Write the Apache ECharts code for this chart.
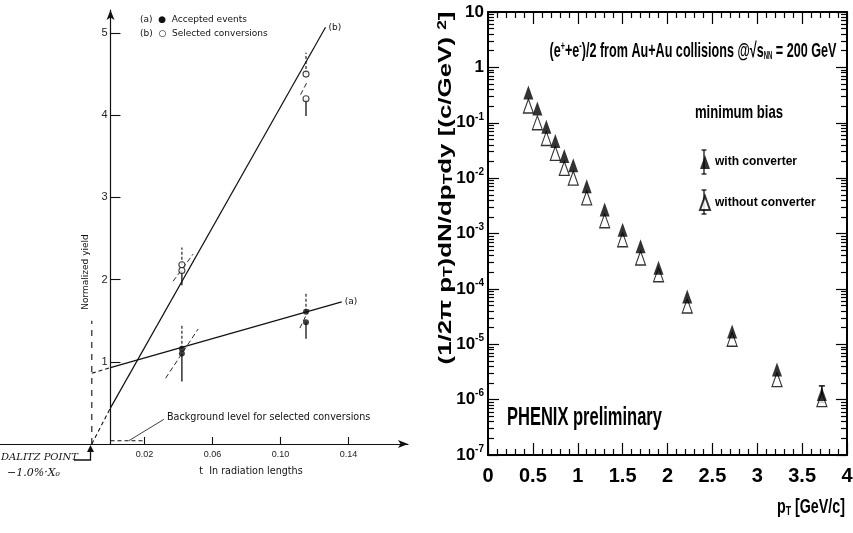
<!DOCTYPE html>
<html><head><meta charset="utf-8">
<script src="https://cdn.jsdelivr.net/npm/echarts@6/dist/echarts.min.js"></script>
<style>html,body{margin:0;padding:0;background:#fff}#c{width:853px;height:533px}</style>
</head><body><div id="c"></div><script>
// ---------- Left panel data (t in radiation lengths, normalized yield) ----------
const tAccepted = [0.042, 0.042, 0.115, 0.115];
const yAccepted = [1.16, 1.10, 1.61, 1.48];
const tSelected = [0.042, 0.042, 0.115, 0.115];
const ySelected = [2.18, 2.11, 4.50, 4.20];
// [t, from, to]
const errUpperDashed = [[0.042, 1.16, 1.45], [0.042, 2.18, 2.39], [0.115, 1.61, 1.84], [0.115, 4.50, 4.76]];
const errLowerSolid  = [[0.042, 1.10, 0.76], [0.042, 2.11, 1.93], [0.115, 1.48, 1.28], [0.115, 4.20, 3.99]];
const fitA    = [[0, 0.93], [0.136, 1.73]];
const fitAExt = [[-0.011, 0.86], [0, 0.93]];
const fitB    = [[0, 0.44], [0.1265, 5.07]];
const fitBExt = [[-0.011, 0], [0, 0.44]];
const slopeMarks = [
  [[0.0324, 0.80], [0.0516, 1.40]],
  [[0.0368, 1.98], [0.0486, 2.31]],
  [[0.1114, 1.41], [0.1176, 1.675]],
  [[0.1118, 4.25], [0.1153, 4.39]]
];
const dalitzLine = [[-0.011, 0], [-0.011, 1.5]];
const backgroundLevel = [[0, 0.04], [0.02, 0.04]];
const backgroundLeader = [[0.0108, 0.04], [0.0314, 0.30]];
const leftXTicks = [0.02, 0.06, 0.10, 0.14];
const leftYTicks = [1, 2, 3, 4, 5];

// ---------- Right panel data (pT, yield) ----------
const pT = [0.45, 0.55, 0.65, 0.75, 0.85, 0.95, 1.1, 1.3, 1.5, 1.7, 1.9, 2.22, 2.72, 3.22, 3.72];
const withConv = [0.35, 0.18, 0.085, 0.047, 0.025, 0.017, 0.0071, 0.0027, 0.00117, 0.00059, 0.00024, 7.3e-5, 1.7e-5, 3.5e-6, 1.26e-6];
const withoutConv = [0.20, 0.10, 0.052, 0.028, 0.015, 0.0100, 0.0044, 0.0017, 0.00077, 0.00036, 0.00018, 4.9e-5, 1.23e-5, 2.3e-6, 1.0e-6];
const withConvErr = [[3.72, 8.9e-7, 1.77e-6]];
const rightYMajor = [1e-7, 1e-6, 1e-5, 1e-4, 1e-3, 1e-2, 1e-1, 1, 10];

const BOLD = '"Liberation Sans",Arial,sans-serif';
const SCAN = '"DejaVu Sans",sans-serif';

const rightYMinor = [];
for (let e = -7; e < 1; e++) for (let k = 2; k < 10; k++) rightYMinor.push(+(k * Math.pow(10, e)).toPrecision(3));

function seg(data, dash, width, extra) {
  return Object.assign({
    type: 'line', xAxisIndex: 0, yAxisIndex: 0, data: data, symbol: 'none', silent: true,
    animation: false, lineStyle: { color: '#111', width: width || 1.1, type: dash || 'solid' }
  }, extra || {});
}

const series = [];
series.push(seg(fitA, 'solid', 1.2, { endLabel: { show: true, formatter: '(a)', fontFamily: SCAN, fontSize: 9, color: '#111', distance: 3 } }));
series.push(seg(fitAExt, [4, 3], 1.1));
series.push(seg(fitB, 'solid', 1.2, { endLabel: { show: true, formatter: '(b)', fontFamily: SCAN, fontSize: 9, color: '#111', distance: 3 } }));
series.push(seg(fitBExt, [4, 3], 1.1));
slopeMarks.forEach(s => series.push(seg(s, [5, 3], 0.9)));
series.push(seg(dalitzLine, [6, 6], 1.1));
series.push(seg(backgroundLevel, [4, 3], 1.1));
series.push(seg(backgroundLeader, 'solid', 0.8));
errUpperDashed.forEach(e => series.push(seg([[e[0], e[1]], [e[0], e[2]]], [3, 2], 1.1)));
errLowerSolid.forEach(e => series.push(seg([[e[0], e[1]], [e[0], e[2]]], 'solid', 1.3)));
series.push({
  type: 'scatter', xAxisIndex: 0, yAxisIndex: 0, symbol: 'circle', symbolSize: 6, silent: true, animation: false,
  data: tAccepted.map((t, i) => [t, yAccepted[i]]), itemStyle: { color: '#111' }, z: 5
});
series.push({
  type: 'scatter', xAxisIndex: 0, yAxisIndex: 0, symbol: 'circle', symbolSize: 6, silent: true, animation: false,
  data: tSelected.map((t, i) => [t, ySelected[i]]), itemStyle: { color: '#fff', borderColor: '#111', borderWidth: 1.1 }, z: 5
});

// Right panel series
series.push({
  name: 'without converter', type: 'scatter', xAxisIndex: 1, yAxisIndex: 1, symbol: 'triangle', symbolSize: [10, 14],
  data: pT.map((x, i) => [x, withoutConv[i]]), animation: false,
  itemStyle: { color: '#fff', borderColor: '#000', borderWidth: 1.2 }, z: 3
});
series.push({
  name: 'with converter', type: 'scatter', xAxisIndex: 1, yAxisIndex: 1, symbol: 'triangle', symbolSize: [10, 14],
  data: pT.map((x, i) => [x, withConv[i]]), animation: false,
  itemStyle: { color: '#000' }, z: 4
});
series.push({
  type: 'custom', xAxisIndex: 1, yAxisIndex: 1, data: withConvErr, animation: false, silent: true, z: 2,
  renderItem: function (params, api) {
    const lo = api.coord([api.value(0), api.value(1)]);
    const hi = api.coord([api.value(0), api.value(2)]);
    const st = { stroke: '#000', lineWidth: 1.4 };
    return { type: 'group', children: [
      { type: 'line', shape: { x1: lo[0], y1: lo[1], x2: hi[0], y2: hi[1] }, style: st },
      { type: 'line', shape: { x1: lo[0] - 3, y1: lo[1], x2: lo[0] + 3, y2: lo[1] }, style: st },
      { type: 'line', shape: { x1: hi[0] - 3, y1: hi[1], x2: hi[0] + 3, y2: hi[1] }, style: st }
    ] };
  }
});

function logLabel(v) {
  const e = Math.round(Math.log10(v));
  if (e === 0) return '{b|1}';
  if (e === 1) return '{b|10}';
  return '{b|10}{s|' + e + '}';
}

const frame = { lineStyle: { color: '#000', width: 2 } };

function legendErr(x, yc) {
  const st = { stroke: '#000', lineWidth: 1.2 };
  return [
    { type: 'line', shape: { x1: x, y1: yc - 12, x2: x, y2: yc + 12 }, style: st, z: 1 },
    { type: 'line', shape: { x1: x - 2.5, y1: yc - 12, x2: x + 2.5, y2: yc - 12 }, style: st, z: 1 },
    { type: 'line', shape: { x1: x - 2.5, y1: yc + 12, x2: x + 2.5, y2: yc + 12 }, style: st, z: 1 }
  ];
}

const option = {
  backgroundColor: '#fff',
  animation: false,
  grid: [
    { left: 0, top: 10, width: 408, height: 434, outerBoundsMode: 'none', containLabel: false },
    { left: 488, top: 12, width: 359, height: 443, outerBoundsMode: 'none', containLabel: false }
  ],
  xAxis: [
    {
      gridIndex: 0, type: 'value', min: -0.065, max: 0.175,
      axisLine: { show: true, onZero: false, symbol: ['none', 'arrow'], symbolSize: [6, 10], lineStyle: { color: '#111', width: 1.2 } },
      axisTick: { show: true, inside: true, length: 7, customValues: leftXTicks, lineStyle: { color: '#111', width: 1.1 } },
      axisLabel: { show: true, customValues: leftXTicks, formatter: v => v.toFixed(2), fontFamily: BOLD, fontSize: 9, color: '#222', margin: 6 },
      splitLine: { show: false }
    },
    {
      gridIndex: 1, type: 'value', min: 0, max: 4, interval: 0.5, position: 'bottom',
      axisLine: frame,
      axisTick: { show: true, inside: true, length: 12, lineStyle: { color: '#000', width: 1.2 } },
      minorTick: { show: true, splitNumber: 5, length: 6, lineStyle: { color: '#000', width: 1.2 } },
      axisLabel: { show: true, fontFamily: BOLD, fontWeight: 'bold', fontSize: 20, color: '#000', margin: 11,
        formatter: v => String(v) },
      splitLine: { show: false }
    },
    {
      gridIndex: 1, type: 'value', min: 0, max: 4, interval: 0.5, position: 'top',
      axisLine: frame,
      axisTick: { show: true, inside: true, length: 12, lineStyle: { color: '#000', width: 1.2 } },
      minorTick: { show: true, splitNumber: 5, length: 6, lineStyle: { color: '#000', width: 1.2 } },
      axisLabel: { show: false }, splitLine: { show: false }
    }
  ],
  yAxis: [
    {
      gridIndex: 0, type: 'value', min: 0, max: 5.28, offset: -110.5,
      axisLine: { show: true, onZero: false, symbol: ['none', 'arrow'], symbolSize: [6, 10], lineStyle: { color: '#111', width: 1.2 } },
      axisTick: { show: true, inside: true, length: 10, customValues: leftYTicks, lineStyle: { color: '#111', width: 1.1 } },
      axisLabel: { show: true, customValues: leftYTicks, fontFamily: BOLD, fontSize: 11, color: '#222', margin: 3 },
      splitLine: { show: false }
    },
    {
      gridIndex: 1, type: 'log', logBase: 10, min: 1e-7, max: 10, position: 'left',
      axisLine: frame,
      axisTick: { show: true, inside: true, length: 11, customValues: rightYMajor, lineStyle: { color: '#000', width: 1.2 } },
      axisLabel: { show: true, customValues: rightYMajor, formatter: logLabel, margin: 4,
        rich: {
          b: { fontFamily: BOLD, fontWeight: 'bold', fontSize: 17, color: '#000', lineHeight: 22 },
          s: { fontFamily: BOLD, fontWeight: 'bold', fontSize: 10, color: '#000', lineHeight: 11, verticalAlign: 'top' }
        } },
      splitLine: { show: false }
    },
    {
      gridIndex: 1, type: 'log', logBase: 10, min: 1e-7, max: 10, position: 'left',
      axisLine: { show: false },
      axisTick: { show: true, inside: true, length: 6, customValues: rightYMinor, lineStyle: { color: '#000', width: 1.2 } },
      axisLabel: { show: false }, splitLine: { show: false }
    },
    {
      gridIndex: 1, type: 'log', logBase: 10, min: 1e-7, max: 10, position: 'right',
      axisLine: frame,
      axisTick: { show: true, inside: true, length: 11, customValues: rightYMajor, lineStyle: { color: '#000', width: 1.2 } },
      axisLabel: { show: false }, splitLine: { show: false }
    },
    {
      gridIndex: 1, type: 'log', logBase: 10, min: 1e-7, max: 10, position: 'right',
      axisLine: { show: false },
      axisTick: { show: true, inside: true, length: 6, customValues: rightYMinor, lineStyle: { color: '#000', width: 1.2 } },
      axisLabel: { show: false }, splitLine: { show: false }
    }
  ],
  legend: {
    data: ['with converter', 'without converter'], orient: 'vertical', left: 699, top: 155, padding: 0,
    itemWidth: 10, itemHeight: 14, itemGap: 26, selectedMode: false,
    textStyle: { fontFamily: BOLD, fontWeight: 'bold', fontSize: 12, color: '#000' }
  },
  graphic: [
    // left panel texts
    { type: 'text', left: 140, top: 15, style: { text: '(a)  \u25CF  Accepted events', font: '9px ' + SCAN, fill: '#111' } },
    { type: 'text', left: 140, top: 29, style: { text: '(b)  \u25CB  Selected conversions', font: '9px ' + SCAN, fill: '#111' } },
    { type: 'text', left: 167, top: 412, style: { text: 'Background level for selected conversions', font: '9.6px ' + SCAN, fill: '#111' } },
    { type: 'text', x: 251, y: 471, style: { text: 't  In radiation lengths', font: '9.6px ' + SCAN, fill: '#111', align: 'center', verticalAlign: 'middle' } },
    { type: 'text', x: 86, y: 272, rotation: Math.PI / 2, style: { text: 'Normalized yield', font: '9px ' + SCAN, fill: '#111', align: 'center', verticalAlign: 'middle' } },
    { type: 'text', x: 1, y: 457, style: { text: 'DALITZ POINT', font: 'italic 10px "DejaVu Serif",serif', fill: '#111', verticalAlign: 'middle' } },
    { type: 'text', x: 7, y: 473, style: { text: '\u22121.0%\u00B7X\u2080', font: 'italic 11px "DejaVu Serif",serif', fill: '#111', verticalAlign: 'middle' } },
    { type: 'polyline', shape: { points: [[74, 460], [90.5, 460], [90.5, 449]] }, style: { stroke: '#111', lineWidth: 1.3, fill: null } },
    { type: 'polygon', shape: { points: [[87, 452], [90.5, 445], [94, 452]] }, style: { fill: '#111' } },
    // right panel texts
    { type: 'text', x: 693, y: 51, scaleX: 0.6, style: {
      text: '(e{sup|+}+e{sup|-})/2 from Au+Au collisions @\u221A{ov|s}{sub|NN} = 200 GeV',
      font: 'bold 21px ' + BOLD, fill: '#000', align: 'center', verticalAlign: 'middle',
      rich: {
        sup: { font: 'bold 12px ' + BOLD, fill: '#000', verticalAlign: 'top', lineHeight: 12 },
        sub: { font: 'bold 10px ' + BOLD, fill: '#000', verticalAlign: 'bottom', lineHeight: 10 },
        ov: { font: 'bold 21px ' + BOLD, fill: '#000' }
      } } },
    { type: 'text', x: 739, y: 113, scaleX: 0.69, style: { text: 'minimum bias', font: 'bold 19px ' + BOLD, fill: '#000', align: 'center', verticalAlign: 'middle' } },
    { type: 'text', x: 507, y: 418, scaleX: 0.66, style: { text: 'PHENIX preliminary', font: 'bold 25px ' + BOLD, fill: '#000', verticalAlign: 'middle' } },
    { type: 'text', x: 845, y: 507, scaleX: 0.68, style: {
      text: 'p{sub|T} [GeV/c]', font: 'bold 21px ' + BOLD, fill: '#000', align: 'right', verticalAlign: 'middle',
      rich: { sub: { font: 'bold 13px ' + BOLD, fill: '#000', verticalAlign: 'bottom', lineHeight: 13 } } } },
    { type: 'text', x: 446, y: 188, rotation: Math.PI / 2, scaleX: 1.44, style: {
      text: '(1/2\u03C0 p{sub|T})dN/dp{sub|T}dy [(c/GeV){sup|2}]',
      font: 'bold 18px ' + BOLD, fill: '#000', align: 'center', verticalAlign: 'middle',
      rich: {
        sub: { font: 'bold 12px ' + BOLD, fill: '#000', verticalAlign: 'bottom', lineHeight: 12 },
        sup: { font: 'bold 12px ' + BOLD, fill: '#000', verticalAlign: 'top', lineHeight: 12, padding: [0, 0, 0, 5] }
      } } }
  ].concat(legendErr(704, 162)).concat(legendErr(704, 202)),
  series: series
};

const chart = echarts.init(document.getElementById('c'), null, { renderer: 'canvas' });
chart.setOption(option);
</script></body></html>
